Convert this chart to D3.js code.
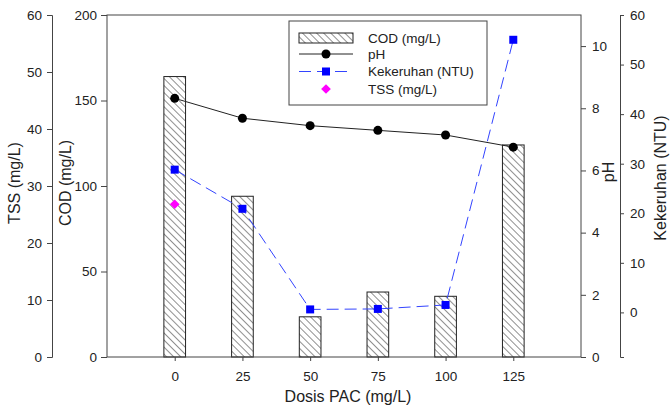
<!DOCTYPE html>
<html>
<head>
    <meta charset="utf-8"/>
    <title>COD, pH, Kekeruhan, TSS vs Dosis PAC</title>
    <script src="https://d3js.org/d3.v7.min.js"></script>
</head>
<style>
    body { margin: 0; background: #fff; }
    svg { font-family: "Liberation Sans", Arial, sans-serif; }
    .axis path, .axis line { stroke: #444; }
    .axis text { fill: #222; font-size: 13.5px; }
    .title { fill: #222; font-size: 16px; }
    .legend text { fill: #222; font-size: 13.5px; }
</style>
<body>
<div id="chart"></div>
<script>
    // data
    var dosis = [0, 25, 50, 75, 100, 125];
    var cod = [164, 94, 23.5, 38, 35.5, 124];
    var ph = [8.32, 7.68, 7.44, 7.29, 7.14, 6.75];
    var kekeruhan = [28.8, 20.9, 0.6, 0.7, 1.5, 55];
    var tssDosis = [0];
    var tss = [26.8];
    var xTicks = [0, 25, 50, 75, 100, 125];

    var width = 670, height = 405;
    // "top" is taken by window.top, so plot edges get their own names
    var pLeft = 107, pRight = 581, pTop = 15, pBottom = 357;

    var svg = d3.select("#chart").append("svg")
        .attr("width", width)
        .attr("height", height);

    var defs = svg.append("defs");
    var pat = defs.append("pattern")
        .attr("id", "hatch")
        .attr("patternUnits", "userSpaceOnUse")
        .attr("width", 5)
        .attr("height", 5)
        .attr("patternTransform", "rotate(-45)");
    pat.append("rect").attr("width", 5).attr("height", 5).attr("fill", "#fff");
    pat.append("line")
        .attr("x1", 0).attr("y1", 0).attr("x2", 0).attr("y2", 5)
        .attr("stroke", "#222").attr("stroke-width", 1);

    var x = d3.scaleLinear().domain([-25, 150]).range([pLeft, pRight]);
    var yCod = d3.scaleLinear().domain([0, 200]).range([pBottom, pTop]);
    var yTss = d3.scaleLinear().domain([0, 60]).range([pBottom, pTop]);
    var yPh = d3.scaleLinear().domain([0, 11]).range([pBottom, pTop]);
    var yKek = d3.scaleLinear().domain([-9, 60]).range([pBottom, pTop]);

    // COD bars
    svg.selectAll(".bar")
        .data(dosis)
        .enter()
        .append("rect")
        .attr("class", "bar")
        .attr("x", function(d){ return x(d - 4); })
        .attr("width", function(d){ return x(d + 4) - x(d - 4); })
        .attr("y", function(d, i){ return yCod(cod[i]); })
        .attr("height", function(d, i){ return pBottom - yCod(cod[i]); })
        .attr("fill", "url(#hatch)")
        .attr("stroke", "#222")
        .attr("stroke-width", 1);

    // plot frame
    svg.append("rect")
        .attr("x", pLeft).attr("y", pTop)
        .attr("width", pRight - pLeft).attr("height", pBottom - pTop)
        .attr("fill", "none").attr("stroke", "#444");

    // axes
    svg.append("g").attr("class", "axis")
        .attr("transform", "translate(0," + pBottom + ")")
        .call(d3.axisBottom(x).tickValues(xTicks).tickSize(4).tickPadding(10))
        .select(".domain").remove();

    svg.append("g").attr("class", "axis")
        .attr("transform", "translate(" + pLeft + ",0)")
        .call(d3.axisLeft(yCod).tickValues([0, 50, 100, 150, 200]).tickSize(6).tickPadding(4))
        .select(".domain").remove();

    svg.append("g").attr("class", "axis")
        .attr("transform", "translate(52,0)")
        .call(d3.axisLeft(yTss).tickValues([0, 10, 20, 30, 40, 50, 60]).tickSizeOuter(0).tickSize(5).tickPadding(5));

    svg.append("g").attr("class", "axis")
        .attr("transform", "translate(" + pRight + ",0)")
        .call(d3.axisRight(yPh).tickValues([0, 2, 4, 6, 8, 10]).tickSize(5).tickPadding(6))
        .select(".domain").remove();

    svg.append("g").attr("class", "axis")
        .attr("transform", "translate(620,0)")
        .call(d3.axisRight(yKek).tickValues([0, 10, 20, 30, 40, 50, 60]).tickSizeOuter(0).tickSize(4).tickPadding(6));

    // axis titles
    svg.append("text").attr("class", "title")
        .attr("x", (pLeft + pRight) / 2 + 4).attr("y", 402)
        .attr("text-anchor", "middle").text("Dosis PAC (mg/L)");
    svg.append("text").attr("class", "title")
        .attr("transform", "translate(20,183) rotate(-90)")
        .attr("text-anchor", "middle").text("TSS (mg/L)");
    svg.append("text").attr("class", "title")
        .attr("transform", "translate(71,183) rotate(-90)")
        .attr("text-anchor", "middle").text("COD (mg/L)");
    svg.append("text").attr("class", "title")
        .attr("transform", "translate(614,172) rotate(-90)")
        .attr("text-anchor", "middle").text("pH");
    svg.append("text").attr("class", "title")
        .attr("transform", "translate(666,178) rotate(-90)")
        .attr("text-anchor", "middle").text("Kekeruhan (NTU)");

    // pH line
    var phLine = d3.line()
        .x(function(d){ return x(d); })
        .y(function(d, i){ return yPh(ph[i]); });
    svg.append("path").datum(dosis)
        .attr("d", phLine)
        .attr("fill", "none").attr("stroke", "#222").attr("stroke-width", 1);
    svg.selectAll(".ph")
        .data(dosis).enter().append("circle")
        .attr("class", "ph")
        .attr("cx", function(d){ return x(d); })
        .attr("cy", function(d, i){ return yPh(ph[i]); })
        .attr("r", 4.5).attr("fill", "#000");

    // Kekeruhan line
    var kekLine = d3.line()
        .x(function(d){ return x(d); })
        .y(function(d, i){ return yKek(kekeruhan[i]); });
    svg.append("path").datum(dosis)
        .attr("d", kekLine)
        .attr("fill", "none").attr("stroke", "#3344ff").attr("stroke-width", 1)
        .attr("stroke-dasharray", "12,6");
    svg.selectAll(".kek")
        .data(dosis).enter().append("rect")
        .attr("class", "kek")
        .attr("x", function(d){ return x(d) - 4; })
        .attr("y", function(d, i){ return yKek(kekeruhan[i]) - 4; })
        .attr("width", 8).attr("height", 8).attr("fill", "#0000ff");

    // TSS
    svg.selectAll(".tss")
        .data(tssDosis).enter().append("path")
        .attr("class", "tss")
        .attr("transform", function(d, i){ return "translate(" + x(d) + "," + yTss(tss[i]) + ")"; })
        .attr("d", d3.symbol().type(d3.symbolDiamond2).size(60))
        .attr("fill", "#ff00ff");

    // legend
    var lg = svg.append("g").attr("class", "legend");
    lg.append("rect")
        .attr("x", 289).attr("y", 21).attr("width", 198).attr("height", 84)
        .attr("fill", "#fff").attr("stroke", "#444");
    var lx0 = 299, lx1 = 353, lxm = 326, tx = 368;
    lg.append("rect")
        .attr("x", lx0).attr("y", 33).attr("width", lx1 - lx0).attr("height", 10)
        .attr("fill", "url(#hatch)").attr("stroke", "#222");
    lg.append("line").attr("x1", lx0).attr("x2", lx1).attr("y1", 54).attr("y2", 54)
        .attr("stroke", "#222");
    lg.append("circle").attr("cx", lxm).attr("cy", 54).attr("r", 4.5).attr("fill", "#000");
    lg.append("line").attr("x1", lx0).attr("x2", lx1).attr("y1", 71.5).attr("y2", 71.5)
        .attr("stroke", "#3344ff").attr("stroke-dasharray", "12,6");
    lg.append("rect").attr("x", lxm - 4).attr("y", 67.5).attr("width", 8).attr("height", 8)
        .attr("fill", "#0000ff");
    lg.append("path")
        .attr("transform", "translate(" + lxm + ",89)")
        .attr("d", d3.symbol().type(d3.symbolDiamond2).size(60))
        .attr("fill", "#ff00ff");
    var labels = ["COD (mg/L)", "pH", "Kekeruhan (NTU)", "TSS (mg/L)"];
    var ly = [38, 54, 71.5, 89];
    lg.selectAll(".lt").data(labels).enter().append("text")
        .attr("class", "lt")
        .attr("x", tx).attr("y", function(d, i){ return ly[i]; })
        .attr("dy", "0.35em").text(function(d){ return d; });
</script>
</body>
</html>
